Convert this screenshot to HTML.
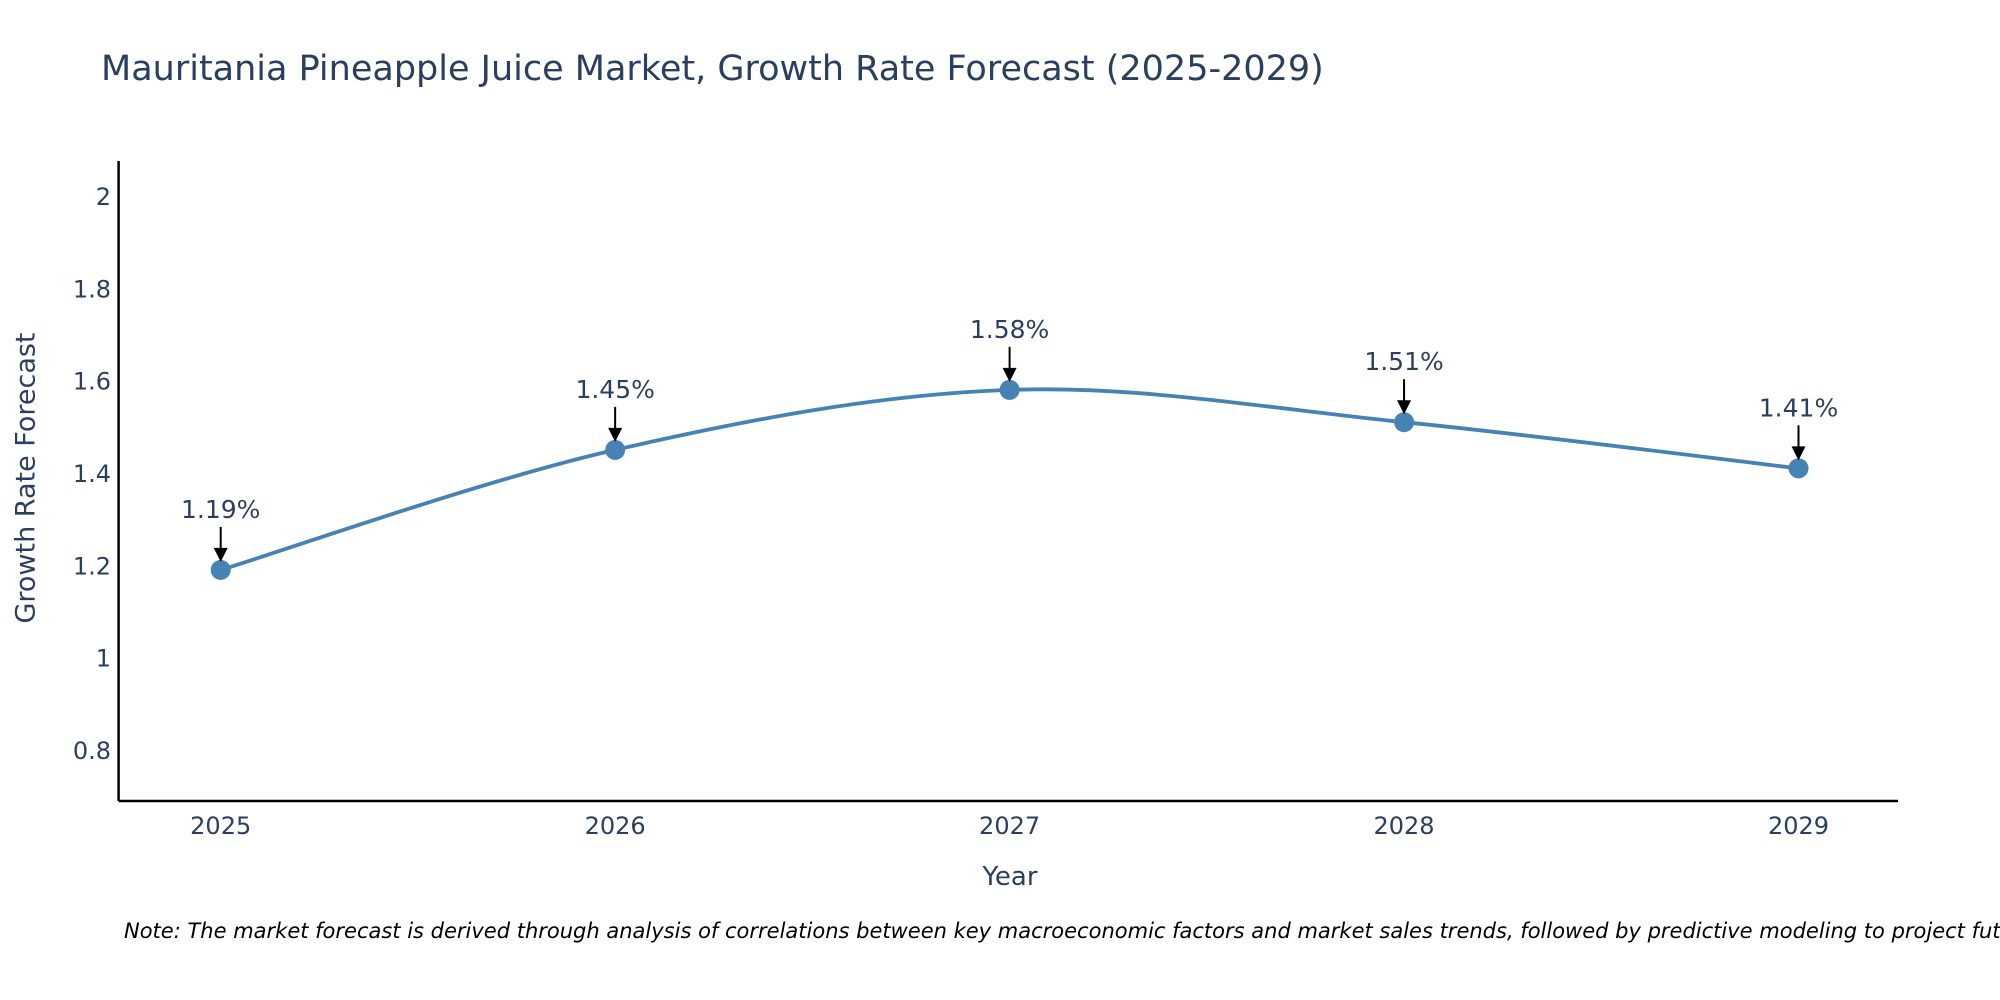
<!DOCTYPE html>
<html><head><meta charset="utf-8"><style>
body{margin:0;background:#fff;}
svg{display:block;font-family:"DejaVu Sans","Liberation Sans",sans-serif;}
</style></head><body>
<svg id="chart" width="2000" height="1000" xmlns="http://www.w3.org/2000/svg">
<text x="101" y="80" font-size="35" fill="#2a3f5f">Mauritania Pineapple Juice Market, Growth Rate Forecast (2025-2029)</text>
<g id="yticks"></g>
<g id="xticks"></g>
<line x1="118.6" y1="161" x2="118.6" y2="801" stroke="#000" stroke-width="2.5"/>
<line x1="118.6" y1="801" x2="1898" y2="801" stroke="#000" stroke-width="2.5"/>
<path id="line" fill="none" stroke="#4682b4" stroke-width="3.8"/>
<g id="marks"></g>
<text x="26" y="478" font-size="27" fill="#2a3f5f" text-anchor="middle" transform="rotate(-90 26 478)" dominant-baseline="central">Growth Rate Forecast</text>
<text x="1010" y="885" font-size="26" fill="#2a3f5f" text-anchor="middle">Year</text>
<text x="124" y="938" font-size="21" font-style="italic" fill="#000">Note: The market forecast is derived through analysis of correlations between key macroeconomic factors and market sales trends, followed by predictive modeling to project future sales.</text>
</svg>
<script>
const years=[2025,2026,2027,2028,2029];
const values=[1.19,1.45,1.58,1.51,1.41];
const labels=["1.19%","1.45%","1.58%","1.51%","1.41%"];
const yTickVals=[0.8,1,1.2,1.4,1.6,1.8,2];
const yTickLabels=["0.8","1","1.2","1.4","1.6","1.8","2"];

const NS="http://www.w3.org/2000/svg";
function X(v){return 220.7+(v-2025)*394.45;}
function Y(v){return 750-(v-0.8)*461.7;}
function mk(tag,attrs,parent,txt){const e=document.createElementNS(NS,tag);for(const k in attrs)e.setAttribute(k,attrs[k]);if(txt!==undefined)e.textContent=txt;parent.appendChild(e);return e;}

const yt=document.getElementById('yticks');
yTickVals.forEach((v,i)=>{
  const t=mk('text',{x:111,y:Y(v)+9,'font-size':24,fill:'#2a3f5f','text-anchor':'end'},yt,yTickLabels[i]);
  
  
});
const xt=document.getElementById('xticks');
years.forEach(v=>{
  const t=mk('text',{x:X(v),y:834,'font-size':24,fill:'#2a3f5f','text-anchor':'middle'},xt,String(v));
  
  
});

const pts=years.map((y,i)=>[X(y),Y(values[i])]);
let d=`M${pts[0][0]},${pts[0][1]}`;
for(let i=0;i<pts.length-1;i++){
  const p0=pts[Math.max(i-1,0)],p1=pts[i],p2=pts[i+1],p3=pts[Math.min(i+2,pts.length-1)];
  const c1=[p1[0]+(p2[0]-p0[0])/6,p1[1]+(p2[1]-p0[1])/6];
  const c2=[p2[0]-(p3[0]-p1[0])/6,p2[1]-(p3[1]-p1[1])/6];
  d+=` C${c1[0]},${c1[1]} ${c2[0]},${c2[1]} ${p2[0]},${p2[1]}`;
}
document.getElementById('line').setAttribute('d',d);

const g=document.getElementById('marks');
pts.forEach((p,i)=>{
  const c=mk('circle',{cx:p[0],cy:p[1],r:10,fill:'#4682b4'},g);
  
  
  const l=mk('line',{x1:p[0],y1:p[1]-43,x2:p[0],y2:p[1]-20,stroke:'#000','stroke-width':2},g);
  
  
  const a=mk('polygon',{points:`${p[0]-7},${p[1]-22} ${p[0]+7},${p[1]-22} ${p[0]},${p[1]-8}`,fill:'#000'},g);
  
  
  const t=mk('text',{x:p[0],y:p[1]-52,'font-size':25,fill:'#2a3f5f','text-anchor':'middle'},g,labels[i]);
  
  
});
</script>
</body></html>
